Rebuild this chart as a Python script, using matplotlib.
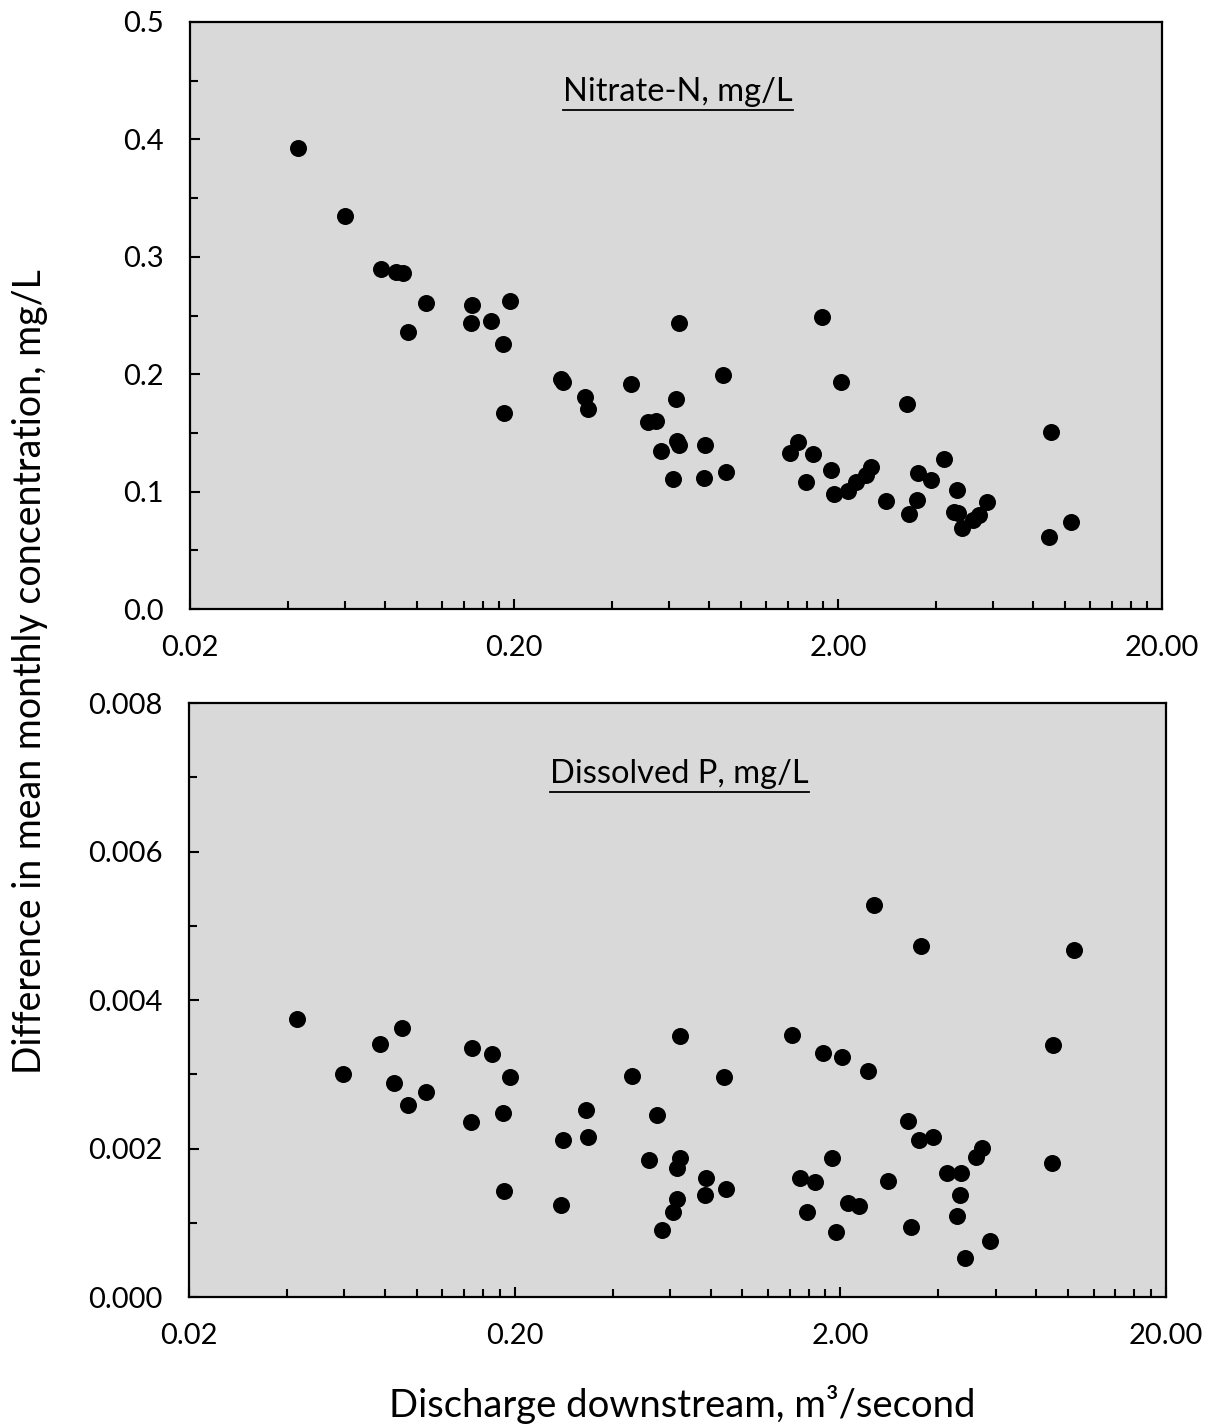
import matplotlib
matplotlib.use("Agg")
from matplotlib import pyplot as plt
from matplotlib.ticker import FixedLocator, MultipleLocator, FuncFormatter
from matplotlib.lines import Line2D

plt.rcParams['font.family'] = ['Lato', 'DejaVu Sans']

# nitrate-N panel (discharge m3/s, difference mg/L)
no3_q = [0.0431, 0.0601, 0.0777, 0.0865, 0.0909, 0.0942, 0.107, 0.148, 0.147, 0.170,
         0.185, 0.194, 0.186, 0.279, 0.283, 0.331, 0.338, 0.459, 0.518, 0.548,
         0.568, 0.619, 0.632, 0.646, 0.637, 0.646, 0.777, 0.772, 0.884, 0.903,
         1.78, 2.04, 3.26, 9.07, 1.50, 1.42, 1.67, 1.90, 1.59, 2.52,
         2.44, 2.28, 2.14, 1.95, 2.81, 3.52, 3.86, 4.26, 3.50, 3.31,
         4.67, 4.55, 4.70, 4.83, 5.23, 5.46, 5.78, 10.45, 8.98]
no3_d = [0.393, 0.335, 0.290, 0.287, 0.286, 0.236, 0.261, 0.259, 0.244, 0.245,
         0.226, 0.262, 0.167, 0.196, 0.193, 0.181, 0.170, 0.192, 0.159, 0.160,
         0.135, 0.111, 0.179, 0.244, 0.143, 0.140, 0.140, 0.112, 0.199, 0.117,
         0.249, 0.193, 0.175, 0.151, 0.142, 0.133, 0.132, 0.118, 0.108, 0.121,
         0.114, 0.108, 0.1005, 0.098, 0.092, 0.1156, 0.110, 0.128, 0.093, 0.081,
         0.101, 0.083, 0.082, 0.069, 0.076, 0.080, 0.091, 0.074, 0.061]

# dissolved P panel
dp_q = [0.0428, 0.0595, 0.0771, 0.090, 0.0853, 0.107, 0.094, 0.148, 0.170, 0.194,
        0.147, 0.184, 0.185,
        0.458, 0.877, 0.331, 0.547, 0.282, 0.337, 0.518, 0.643, 0.630, 0.773,
        0.768, 0.894, 0.631, 0.613, 0.566, 0.277, 0.643, 1.42, 1.77, 2.02,
        1.89, 1.50, 1.67, 1.58, 1.94, 2.11,
        2.54, 3.54, 10.42, 2.43, 9.02, 3.23, 3.50, 3.86, 5.44, 5.22,
        2.80, 4.26, 4.68, 4.66, 4.58, 8.94, 2.29, 3.30, 5.77, 4.83]
dp_d = [0.00374, 0.00301, 0.00341, 0.00362, 0.00288, 0.00276, 0.00258, 0.00335, 0.00327, 0.00297,
        0.00236, 0.00248, 0.00143,
        0.00298, 0.00297, 0.00252, 0.00245, 0.00211, 0.00216, 0.00184, 0.00187, 0.00174, 0.00161,
        0.00138, 0.00145, 0.00132, 0.00115, 0.00090, 0.00124, 0.00351, 0.00353, 0.00329, 0.00323,
        0.00187, 0.00160, 0.00155, 0.00114, 0.00087, 0.00126,
        0.00528, 0.00473, 0.00468, 0.00305, 0.00339, 0.00237, 0.00211, 0.00216, 0.00201, 0.00189,
        0.00156, 0.00167, 0.00167, 0.00138, 0.00109, 0.00180, 0.00122, 0.00095, 0.00075, 0.00052]

panels = [
    (no3_q, no3_d, "Nitrate-N, mg/L", 0.5, 0.1, 0.05, "{:.1f}", [0.1568, 0.5735, 0.8020, 0.4111]),
    (dp_q, dp_d, "Dissolved P, mg/L", 0.008, 0.002, 0.001, "{:.3f}", [0.1559, 0.0917, 0.8061, 0.4160]),
]

x_major = [0.02, 0.2, 2, 20]
x_minor = [0.02 * 10**n * k for n in range(3) for k in range(2, 10)]

fig = plt.figure(figsize=(12.12, 14.28), dpi=100)
titles = []
for q, d, title, ymax, ymaj, ymin, yfmt, rect in panels:
    ax = fig.add_axes(rect)
    ax.set_facecolor("#d9d9d9")
    ax.scatter(q, d, s=150, color="black", zorder=3, linewidths=0)
    ax.set_xscale("log")
    ax.set_xlim(0.02, 20)
    ax.set_ylim(0, ymax)
    ax.xaxis.set_major_locator(FixedLocator(x_major))
    ax.xaxis.set_minor_locator(FixedLocator(x_minor))
    ax.xaxis.set_major_formatter(FuncFormatter(lambda v, p: "{:.2f}".format(v)))
    ax.xaxis.set_minor_formatter(FuncFormatter(lambda v, p: ""))
    ax.yaxis.set_major_locator(MultipleLocator(ymaj))
    ax.yaxis.set_minor_locator(MultipleLocator(ymin))
    ax.yaxis.set_major_formatter(FuncFormatter(lambda v, p, f=yfmt: f.format(v)))
    ax.tick_params(which="major", direction="in", length=7, width=1.5, labelsize=21, pad=19,
                   top=False, right=False)
    ax.tick_params(which="minor", direction="in", length=5.5, width=1.5, top=False, right=False)
    for sp in ax.spines.values():
        sp.set_linewidth(1.6)
    t = ax.text(0.502, 0.881, title, transform=ax.transAxes, ha="center", va="center", fontsize=23.5)
    titles.append((ax, t))

fig.text(30 / 1212, 1 - 672 / 1428, "Difference in mean monthly concentration, mg/L",
         rotation=90, ha="center", va="center", fontsize=27)
fig.text(682 / 1212, 1 - 1405 / 1428, "Discharge downstream, m³/second",
         ha="center", va="center", fontsize=27.5)

# underline the panel titles
fig.canvas.draw()
r = fig.canvas.get_renderer()
for ax, t in titles:
    bb = t.get_window_extent(r).transformed(fig.transFigure.inverted())
    yl = bb.y0 - 0.002
    fig.add_artist(Line2D([bb.x0, bb.x1], [yl, yl], color="black", linewidth=1.3,
                          transform=fig.transFigure))

fig.savefig("out.png", dpi=100)
